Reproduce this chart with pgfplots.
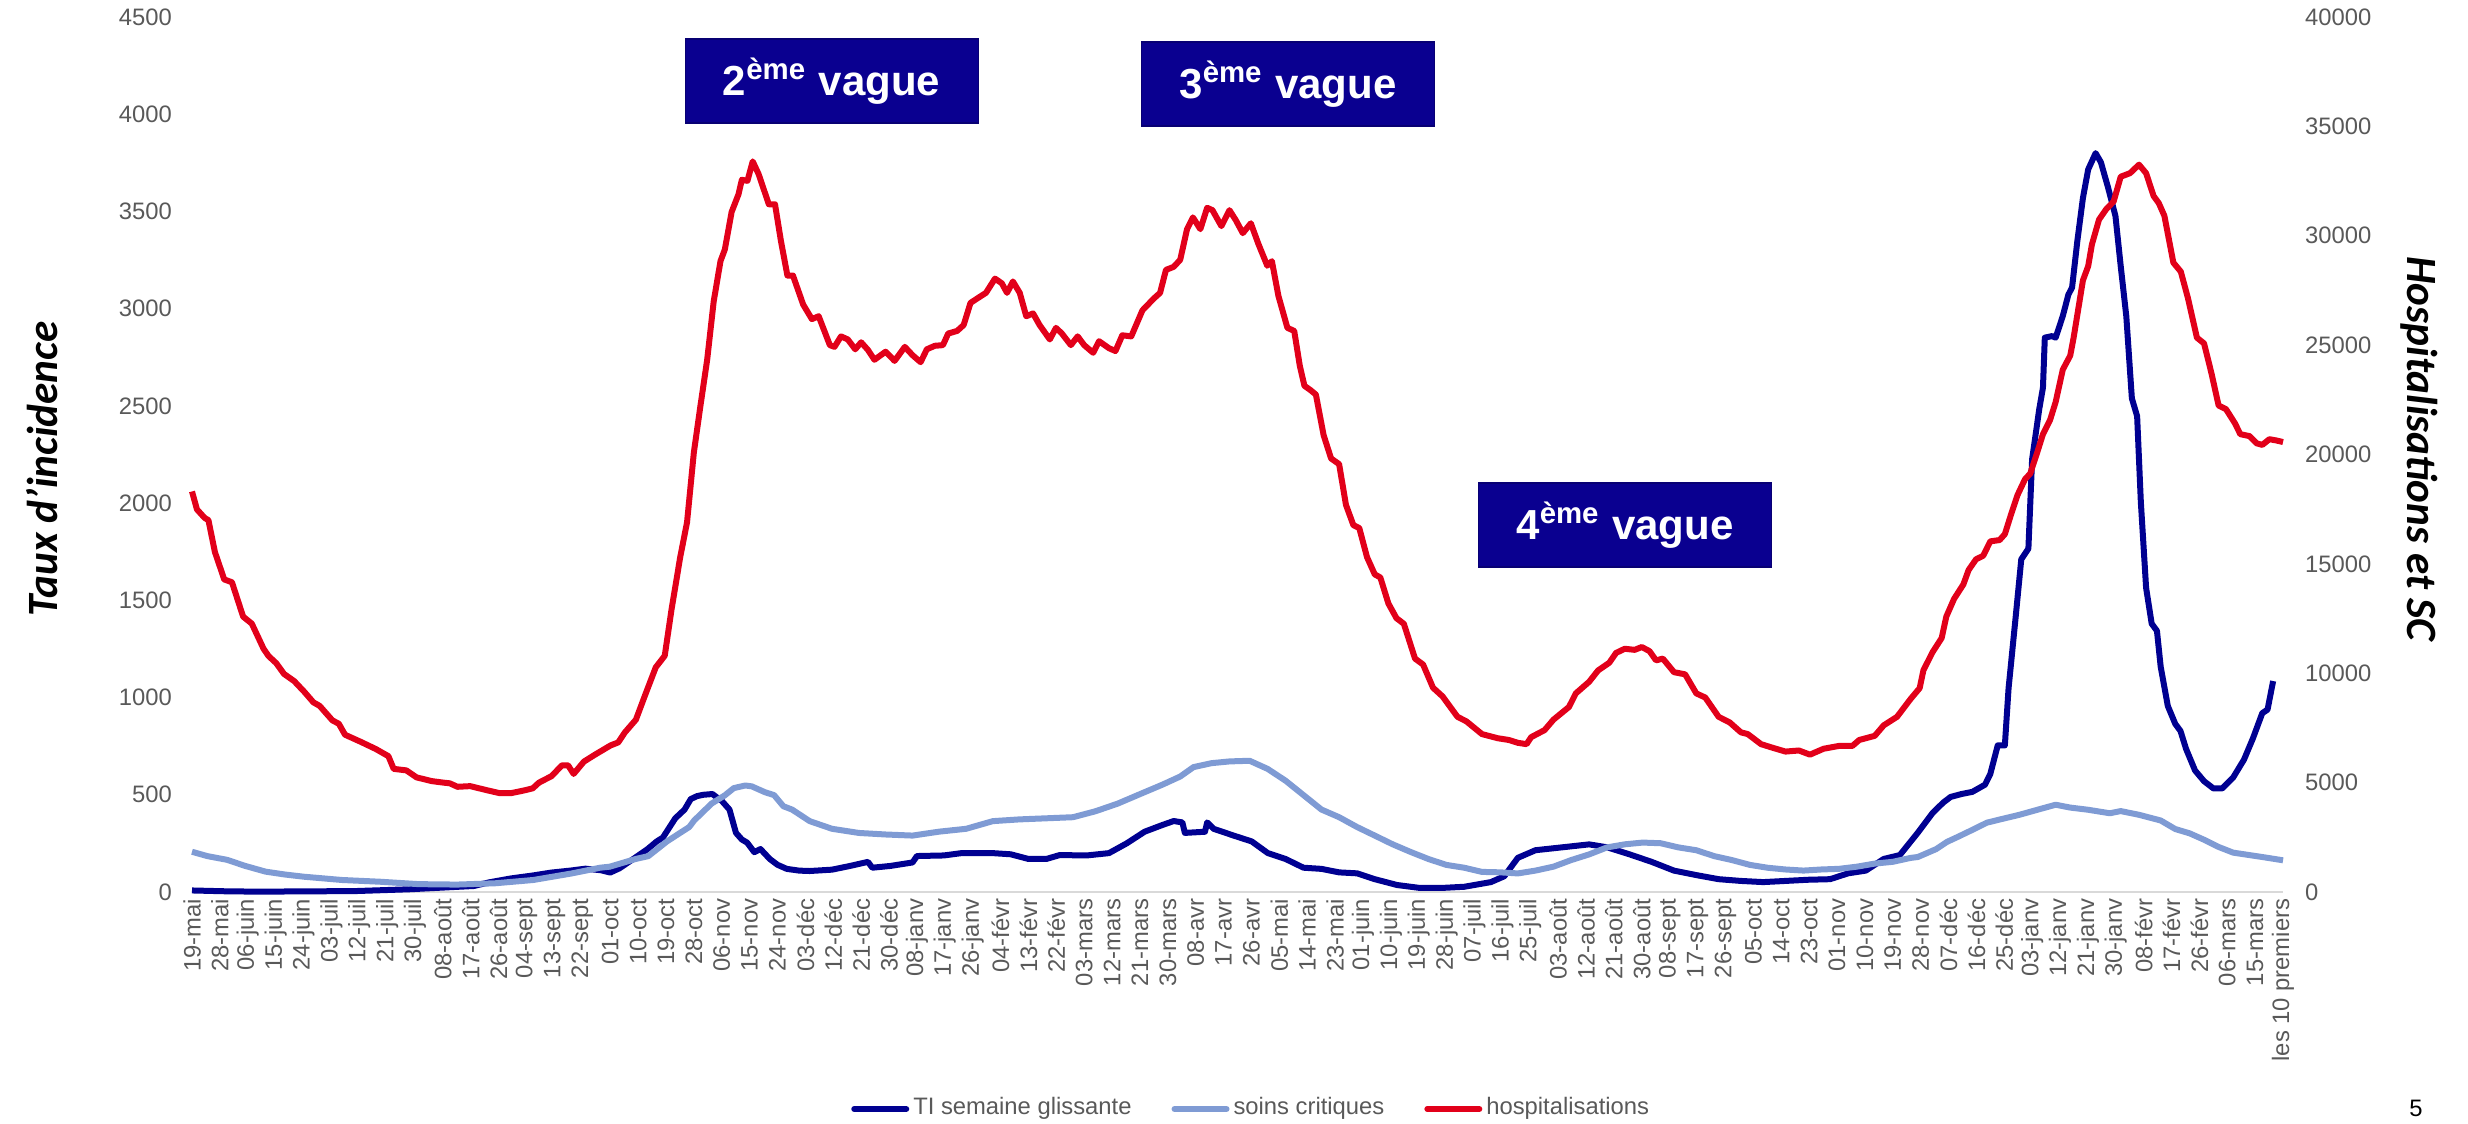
\documentclass[border=0pt]{standalone}
\usepackage{fontspec}
\setmainfont{Liberation Sans}
\newfontfamily\calib{Carlito}
\usepackage{pgfplots}
\pgfplotsset{compat=1.18}
\definecolor{tiblue}{RGB}{0,0,145}
\definecolor{scblue}{RGB}{127,155,212}
\definecolor{hospred}{RGB}{226,0,26}
\definecolor{boxblue}{RGB}{10,0,144}
\definecolor{ticktext}{RGB}{89,89,89}
\definecolor{axisgray}{RGB}{217,217,217}
\newcommand{\tickfont}{\fontsize{5.95}{7}\selectfont}
\begin{document}
\begin{tikzpicture}
\path[use as bounding box] (0pt,0pt) rectangle (617pt,-280.75pt);
\begin{axis}[
  at={(48pt,-223pt)}, anchor=south west,
  width=522.75pt, height=218.75pt, scale only axis,
  xmin=0, xmax=675, ymin=0, ymax=4500,
  axis x line*=bottom, axis y line*=left,
  y axis line style={draw=none},
  x axis line style={draw=axisgray, line width=0.5pt, -},
  major tick length=0pt, tick style={draw=none},
  ytick={0,500,...,4500},
  xtick={0,9,...,675},
  xticklabels={19-mai,28-mai,06-juin,15-juin,24-juin,03-juil,12-juil,21-juil,30-juil,08-août,17-août,26-août,04-sept,13-sept,22-sept,01-oct,10-oct,19-oct,28-oct,06-nov,15-nov,24-nov,03-déc,12-déc,21-déc,30-déc,08-janv,17-janv,26-janv,04-févr,13-févr,22-févr,03-mars,12-mars,21-mars,30-mars,08-avr,17-avr,26-avr,05-mai,14-mai,23-mai,01-juin,10-juin,19-juin,28-juin,07-juil,16-juil,25-juil,03-août,12-août,21-août,30-août,08-sept,17-sept,26-sept,05-oct,14-oct,23-oct,01-nov,10-nov,19-nov,28-nov,07-déc,16-déc,25-déc,03-janv,12-janv,21-janv,30-janv,08-févr,17-févr,26-févr,06-mars,15-mars,les 10 premiers},
  xticklabel style={rotate=90, anchor=east, font=\tickfont, text=ticktext, inner sep=1.5pt},
  yticklabel style={font=\tickfont, text=ticktext, xshift=-1.5pt},
  /pgf/number format/assume math mode=true,
  /pgf/number format/1000 sep={},
  scaled y ticks=false,
  clip=false,
]
\addplot[tiblue, line width=1.5pt, line join=round] coordinates {
(0,8)(10,4)(20,2)(35,3)(53,5)(70,14)(80,22)(91,31)(96,50)(103,70)(110,85)(116,100)(122,110)(127,120)(132,112)(135,100)(138,122)(143,176)(147,220)(150,260)(152,280)(156,379)(159,424)(161,478)(163,493)(165,500)(168,504)(170,480)(171,469)(173.5,424)(175.6,304)(177.5,270)(179.2,254)(181.5,205)(183.5,221)(186.5,170)(189,140)(192,119)(196,110)(199.4,108)(206.6,115)(212.4,134)(218.2,155)(219.6,125)(225.4,134)(232.6,152)(234,185)(242.7,188)(248.4,200)(258.5,200)(264.3,194)(270,170)(275.8,170)(280.1,190)(288.8,188)(296,200)(301.7,250)(307.5,310)(313.3,345)(316.9,365)(319.7,358)(320.5,304)(327,310)(327.7,358)(329.8,325)(336.3,290)(342.1,260)(347.3,200)(353,170)(358.8,125)(364.6,119)(370.3,101)(376.1,96)(381.8,66)(389,36)(396.3,21)(403.5,21)(410.7,27)(419.3,51)(423.6,81)(428,176)(433.7,215)(442.4,230)(451,245)(456.8,230)(464,194)(471.2,155)(478.4,110)(485.6,87)(492.8,66)(500,57)(507.2,51)(514.4,57)(521.6,63)(528.8,66)(534.6,96)(540.3,110)(546.1,170)(551.3,190)(557.1,305)(561.8,405)(565.3,460)(567.7,489)(571.2,504)(574.7,515)(578.8,552)(580.5,607)(582.9,754)(585.2,754)(586.4,1048)(588.7,1416)(590.5,1711)(592.8,1766)(594,2226)(596.3,2483)(597.5,2594)(598.1,2851)(600.4,2859)(601.6,2851)(603.9,2962)(605.7,3072)(606.9,3109)(608.6,3348)(610.4,3569)(612.1,3716)(614.5,3800)(616.2,3753)(618.5,3624)(620.9,3477)(622.6,3219)(624.4,2962)(626.2,2539)(627.9,2447)(629.1,2005)(630.8,1564)(632.6,1380)(634.3,1343)(635.5,1159)(637.8,957)(640.2,865)(641.9,828)(643.7,736)(646.6,625)(649.5,570)(652.5,533)(655.4,533)(658.9,589)(662.4,681)(665.3,791)(668.3,920)(670,938)(671.8,1085)
};
\end{axis}
\begin{axis}[
  at={(48pt,-223pt)}, anchor=south west,
  width=522.75pt, height=218.75pt, scale only axis,
  xmin=0, xmax=675, ymin=0, ymax=40000,
  hide x axis, axis y line*=right,
  y axis line style={draw=none},
  major tick length=0pt, tick style={draw=none},
  ytick={0,5000,...,40000},
  yticklabel style={font=\tickfont, text=ticktext, xshift=2pt},
  /pgf/number format/assume math mode=true,
  /pgf/number format/1000 sep={},
  scaled y ticks=false,
  clip=false,
  legend style={at={(0.507,-0.248)}, anchor=center, draw=none, fill=none, font=\tickfont, text=ticktext, legend columns=3, nodes={inner xsep=1pt}, /tikz/every even column/.append style={column sep=9pt}},
  legend image code/.code={\draw[#1, line width=1.5pt, line cap=round] (0pt,0pt) -- (13pt,0pt);},
]
\addlegendimage{tiblue}
\addlegendentry{TI semaine glissante}
\addplot[scblue, line width=1.5pt, line join=round] coordinates {
(0,1840)(5,1640)(11.4,1470)(17,1200)(23.8,930)(30,800)(36.1,700)(48.4,550)(60.8,470)(73.2,360)(85.5,340)(97.9,400)(110.2,550)(122.6,850)(131.7,1110)(134.9,1160)(143.2,1510)(147.3,1640)(153.3,2310)(157.2,2670)(160.5,2970)(162.1,3270)(167.7,4040)(172,4420)(174.9,4750)(178.6,4870)(180.7,4830)(185,4560)(187.9,4430)(190.9,3920)(193.7,3770)(199.4,3240)(206.6,2890)(215.3,2700)(223.9,2630)(232.6,2580)(241.2,2760)(249.9,2890)(258.5,3240)(267.1,3320)(275.8,3370)(284.4,3420)(291.6,3690)(298.8,4040)(306.1,4480)(313.3,4910)(319,5280)(323.3,5710)(329.1,5890)(334.9,5970)(341.4,6000)(347.2,5630)(353,5090)(358.8,4430)(364.6,3770)(370.3,3420)(376.1,2970)(381.8,2580)(387.6,2180)(393.4,1830)(399.1,1510)(404.9,1240)(410.7,1110)(416.4,920)(422.2,900)(428,850)(433.7,980)(439.5,1160)(445.2,1460)(451,1720)(456.8,2040)(462.5,2180)(468.3,2260)(474.1,2230)(479.8,2040)(485.6,1910)(491.4,1640)(497.1,1460)(502.9,1240)(508.6,1110)(514.4,1030)(520.2,980)(525.9,1030)(531.7,1060)(537.5,1160)(543.2,1300)(549,1380)(554.8,1560)(557.1,1600)(563,1960)(566.5,2290)(570,2520)(574.7,2840)(579.4,3170)(584,3330)(589.9,3530)(595.7,3760)(601.6,3990)(606.3,3860)(612.1,3760)(619.1,3600)(622.6,3700)(628.5,3530)(635.5,3270)(640.2,2880)(644.9,2680)(649.5,2390)(654.2,2060)(658.9,1800)(663.6,1700)(668.3,1600)(675,1450)
};
\addlegendentry{soins critiques}
\addplot[hospred, line width=1.5pt, line join=round] coordinates {
(0,18310)(1.6,17490)(4.1,17100)(5.3,17000)(7.4,15540)(10.4,14290)(12.9,14160)(16.5,12590)(19.3,12270)(23.1,11120)(24.7,10790)(27.2,10460)(29.7,9970)(33,9640)(36.2,9160)(39.2,8670)(41.2,8510)(45.3,7850)(47.4,7690)(49.4,7190)(54.4,6870)(59.3,6540)(63.4,6210)(65.1,5630)(69.2,5560)(72.5,5240)(77.4,5070)(81.2,5000)(83.2,4970)(85.7,4810)(89.8,4840)(95.6,4640)(99.3,4520)(103,4520)(107.1,4640)(110,4740)(112,5000)(116.1,5300)(119.4,5790)(121.4,5790)(123.2,5400)(126.5,5960)(130.1,6280)(135.1,6700)(137.6,6840)(139.7,7290)(143.3,7880)(146.1,8940)(149.7,10270)(152.6,10800)(154.8,12920)(157.6,15310)(159.8,16900)(162,20090)(164.1,22200)(166.3,24330)(168.4,26990)(170.6,28840)(172,29370)(174.2,31090)(176.4,31890)(177.5,32560)(179.3,32510)(181,33400)(182.9,32820)(186.2,31440)(188.2,31440)(190.1,29770)(192.2,28180)(194,28180)(197.3,26850)(200.1,26190)(202.3,26320)(205.9,25000)(207.4,24920)(209.5,25400)(211.7,25260)(214.1,24810)(216,25130)(218.2,24780)(220.3,24330)(223.9,24700)(226.8,24280)(230.1,24920)(232.6,24540)(235.2,24220)(237.2,24810)(239.8,24970)(242.4,25000)(244.1,25530)(247,25650)(249.1,25920)(251.3,26930)(254.2,27200)(256.3,27390)(259.2,28040)(261.4,27830)(263.1,27390)(265,27910)(267.2,27390)(269.3,26320)(271.5,26450)(273.6,25920)(276.9,25260)(278.9,25790)(280.8,25530)(283.7,25000)(285.9,25400)(288,25000)(290.9,24650)(292.8,25180)(296,24860)(298.1,24730)(300.3,25450)(303.2,25400)(306.8,26590)(310.4,27120)(312.5,27390)(314.4,28440)(316.9,28580)(319,28900)(321.2,30300)(323.1,30840)(325.5,30300)(327.7,31280)(329.4,31170)(332.3,30440)(334.9,31170)(337,30700)(339.2,30120)(341.8,30570)(344.2,29640)(347.1,28630)(348.6,28840)(350.7,27250)(353.6,25790)(355.8,25650)(357.6,24060)(359.1,23140)(361,22950)(362.8,22740)(365.3,20880)(367.7,19820)(370.3,19560)(372.5,17700)(374.9,16770)(376.8,16640)(379.3,15310)(381.8,14520)(383.6,14380)(386.2,13190)(388.8,12520)(391.2,12260)(394.8,10670)(397.4,10400)(400.6,9340)(403.7,8940)(408.5,8010)(411.4,7800)(416.4,7220)(421.5,7030)(425.1,6950)(428,6820)(430.8,6760)(432.3,7080)(436.6,7400)(439.5,7880)(444.5,8460)(446.7,9080)(451,9610)(453.9,10130)(457.5,10480)(459.7,10930)(462.5,11120)(465.7,11070)(468,11200)(470.5,11010)(472.6,10590)(474.8,10670)(478.4,10050)(482,9950)(485.6,9080)(488.5,8890)(492.8,8010)(496.4,7750)(500,7300)(502.2,7220)(506.5,6760)(510.1,6600)(514.4,6420)(518.7,6470)(522.3,6280)(526.7,6550)(531.7,6680)(536,6680)(538.2,6950)(543.2,7140)(546.1,7620)(550.4,8010)(554.8,8830)(557.7,9320)(558.9,10130)(561.8,10950)(564.8,11610)(566.3,12590)(568.8,13400)(571.8,14060)(573.5,14720)(575.9,15210)(578.2,15370)(580.5,16030)(583.5,16090)(585.2,16360)(587,17170)(589.3,18150)(591.7,18870)(593.4,19130)(595.7,20120)(597.5,20930)(599.8,21580)(601.6,22400)(603.9,23880)(606.3,24520)(607.4,25340)(610.4,27960)(612.1,28610)(613.3,29600)(615.6,30740)(618,31230)(620.3,31560)(622.6,32700)(625.6,32860)(628.5,33250)(630.8,32860)(633.2,31820)(634.9,31490)(636.7,30910)(639.6,28770)(642,28360)(644.3,27150)(647.2,25340)(649.5,25080)(651.9,23710)(654.2,22240)(656.6,22070)(659.5,21420)(661.2,20930)(664.2,20840)(666.5,20510)(668.3,20440)(670.6,20700)(672.9,20640)(675,20570)
};
\addlegendentry{hospitalisations}
\end{axis}
% axis titles
\node[rotate=90, font=\calib\bfseries\itshape\fontsize{10.8}{12}\selectfont] at (10.5pt,-117.25pt) {Taux d’incidence};
\node[rotate=-90, font=\calib\bfseries\itshape\fontsize{10.8}{12}\selectfont] at (604.75pt,-112.25pt) {Hospitalisations et SC};
% wave boxes
\tikzset{wave/.style={fill=boxblue, draw=boxblue!80!black, line width=0.3pt, minimum width=73.25pt, minimum height=21pt, inner sep=0pt, text=white, font=\bfseries\fontsize{10.5}{12}\selectfont}}
\node[wave] at (207.9pt,-20.25pt) {2\textsuperscript{ème} vague};
\node[wave] at (322pt,-21pt) {3\textsuperscript{ème} vague};
\node[wave] at (406.25pt,-131.25pt) {4\textsuperscript{ème} vague};
% page number
\node[font=\tickfont] at (604pt,-277pt) {5};
\end{tikzpicture}
\end{document}
